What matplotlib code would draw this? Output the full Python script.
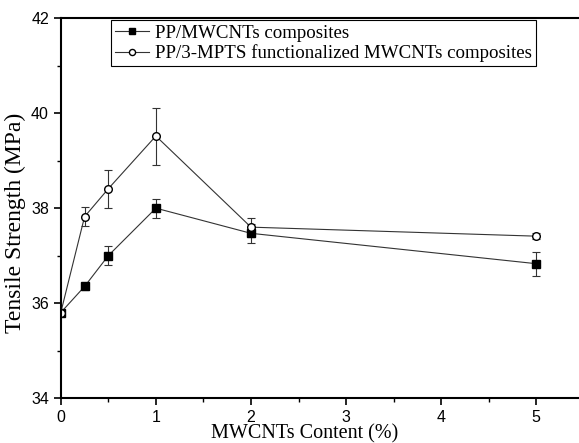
import matplotlib
matplotlib.use("Agg")
import matplotlib.pyplot as plt
from matplotlib.ticker import MultipleLocator

# data
content = [0, 0.25, 0.5, 1, 2, 5]
pp_mwcnt = [35.8, 36.35, 37.0, 38.0, 37.47, 36.83]
pp_mwcnt_err = [0.05, 0.08, 0.2, 0.2, 0.2, 0.25]
pp_mpts = [35.8, 37.82, 38.41, 39.52, 37.6, 37.41]
pp_mpts_err = [0.05, 0.2, 0.4, 0.6, 0.2, 0.07]

fig = plt.figure(figsize=(5.79, 4.43), dpi=100)
ax = fig.add_axes([0.105, 0.1016, 0.895, 0.857])

# error bars first, then lines + markers on top
for y, err in [(pp_mwcnt, pp_mwcnt_err), (pp_mpts, pp_mpts_err)]:
    ax.errorbar(content, y, yerr=err, fmt="none", ecolor="#333333",
                elinewidth=0.8, capsize=3, capthick=0.8)

ax.plot(content, pp_mwcnt, "-s", color="#333333", mfc="black", mec="black",
        ms=5.5, lw=0.8, label="PP/MWCNTs composites")
ax.plot(content, pp_mpts, "-o", color="#333333", mfc="white", mec="black",
        ms=5.5, lw=0.8, label="PP/3-MPTS functionalized MWCNTs composites")

ax.set_xlim(0, 5.45)
ax.set_ylim(34, 42)
ax.xaxis.set_major_locator(MultipleLocator(1))
ax.xaxis.set_minor_locator(MultipleLocator(0.5))
ax.yaxis.set_major_locator(MultipleLocator(2))
ax.yaxis.set_minor_locator(MultipleLocator(1))
ax.tick_params(which="major", direction="out", length=5, width=1.2, top=False, right=False)
ax.tick_params(which="minor", direction="out", length=3, width=1.0, top=False, right=False)
for lab in ax.get_xticklabels() + ax.get_yticklabels():
    lab.set_fontfamily("Liberation Sans")
    lab.set_fontsize(11.5)

for s in ["left", "bottom", "top"]:
    ax.spines[s].set_linewidth(1.5)
ax.spines["right"].set_visible(False)

ax.set_xlabel("MWCNTs Content (%)", family="Liberation Serif", fontsize=14.5)
ax.set_ylabel("Tensile Strength (MPa)", family="Liberation Serif", fontsize=17)
ax.xaxis.set_label_coords(0.47, -0.068)
ax.yaxis.set_label_coords(-0.067, 0.46)

leg = ax.legend(loc="upper left", bbox_to_anchor=(0.097, 0.995), frameon=True,
                fancybox=False, edgecolor="black", framealpha=1,
                prop={"family": "Liberation Serif", "size": 13.6},
                handlelength=1.8, borderpad=0.22, labelspacing=0.15,
                handletextpad=0.3, borderaxespad=0, markerscale=0.8)
leg.get_frame().set_linewidth(0.8)

plt.savefig("out.png", dpi=100)
